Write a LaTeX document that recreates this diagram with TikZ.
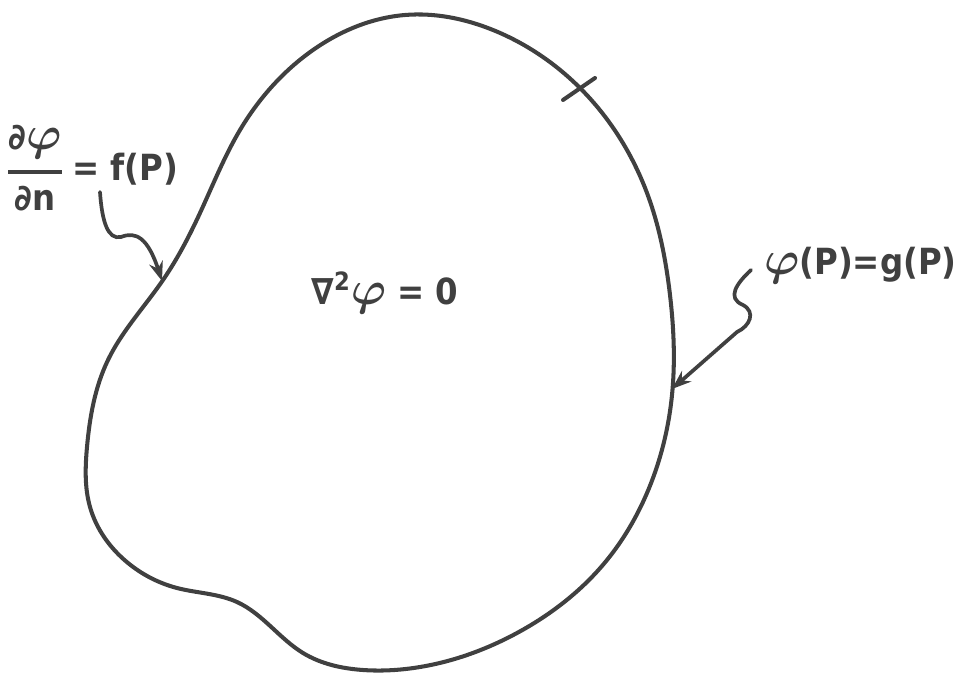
\documentclass[tikz,border=0pt]{standalone}
\usepackage{amsmath}
\usepackage{fontspec}
\setmainfont{DejaVu Sans Condensed}
\usetikzlibrary{arrows.meta,positioning,hobby}

\newcommand{\vphi}{\scalebox{1.3}{$\boldsymbol{\varphi}$}}

\begin{document}
\begin{tikzpicture}[x=0.02cm, y=-0.02cm,
    rim/.style={line width=2.3pt, black!75, line cap=round, line join=round},
    lbl/.style={black!75, font=\fontsize{20.5}{25}\selectfont\bfseries, inner sep=0pt},
    wiggle/.style={line width=2.1pt, black!75, line cap=round, -{Stealth[length=11pt, width=8pt]}}]
    \useasboundingbox (0,0) rectangle (959,675);
    \draw[rim, use Hobby shortcut, closed=true]
      (405,15) .. (493,30) .. (580,88) .. (647,193) .. (670,295) .. (672,395)
      .. (647,493) .. (607,560) .. (517,633) .. (420,667) .. (363,670) .. (303,653)
      .. (237,602) .. (177,588) .. (128,563) .. (90,507) .. (87,447) .. (108,360)
      .. (163,280) .. (200,213) .. (240,130) .. (313,50);
    \draw[rim] (563,100) -- (595,78);
    \coordinate (pf) at (162,281);
    \coordinate (pg) at (672,389);
    \coordinate (fstart) at (100,192);
    \coordinate (gstart) at (751,270);
    \node[lbl] (frac) at (35,168) {$\genfrac{}{}{2.2pt}{0}{\text{∂\vphi}}{\text{∂n}}$};
    \node[lbl, anchor=base] (fP) at (125,181) {= f(P)};
    \node[lbl, anchor=base east] (gP) at (957,275) {\vphi(P)=g(P)};
    \node[lbl, anchor=base] (lap) at (385,304) {∇\textsuperscript{2}\vphi{} = 0};
    \draw[wiggle] (fstart) .. controls (102,222) and (108,240) .. (121,237)
      .. controls (136,231) and (148,238) .. (pf);
    \draw[wiggle] (gstart) .. controls (737,283) and (726,298) .. (743,305)
      .. controls (756,312) and (750,326) .. (737,332) -- (pg);
\end{tikzpicture}
\end{document}
